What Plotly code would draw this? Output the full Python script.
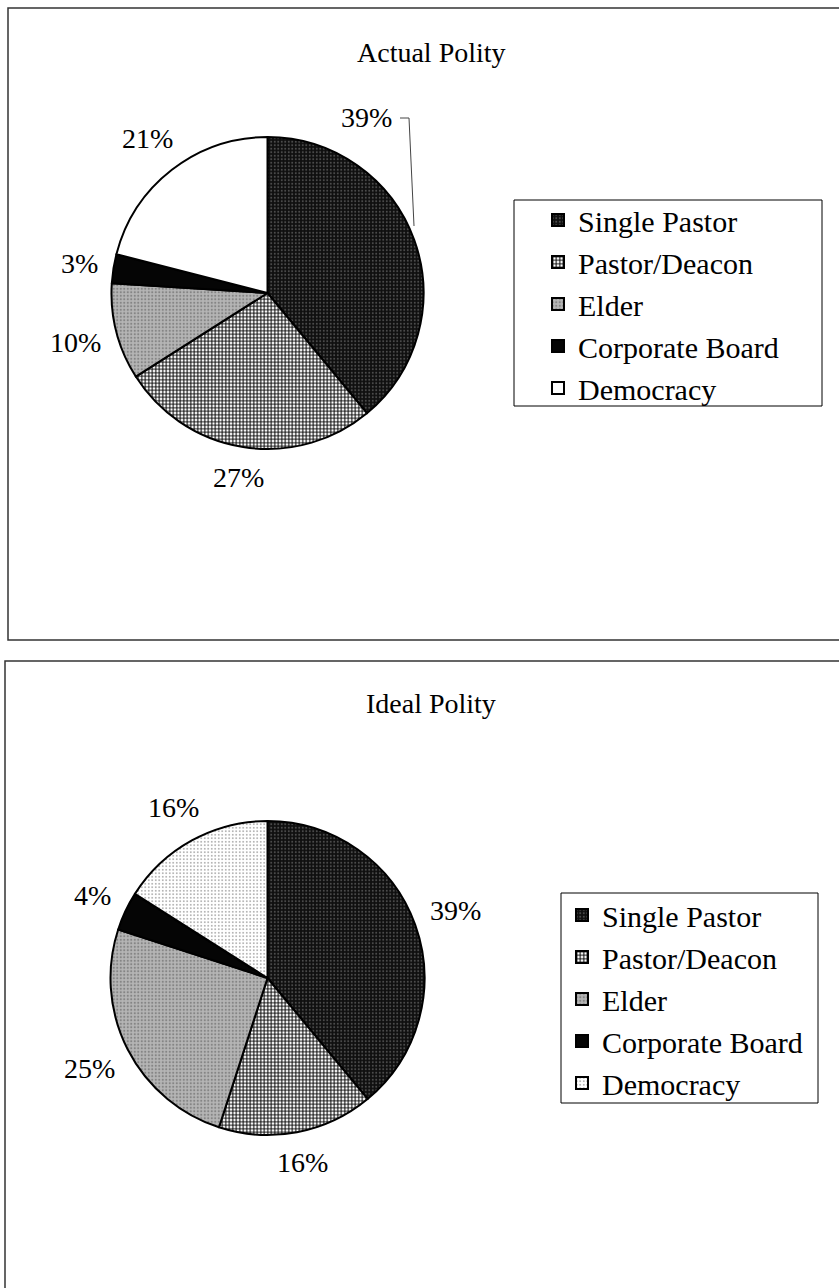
import math
import plotly.graph_objects as go

# Church governance survey: share of respondents by polity type
categories = ["Single Pastor", "Pastor/Deacon", "Elder", "Corporate Board", "Democracy"]
actual_pct = [39, 27, 10, 3, 21]
ideal_pct = [39, 16, 25, 4, 16]

FONT = "Liberation Serif, Times New Roman, serif"
W, H = 839, 1288
LABEL_SIZE = 28

# Fill styling per category (dark speckle, crosshatch, grey speckle, black, white)
bg_colors = ["#0f0f0f", "#ffffff", "#b5b5b5", "#050505", "#ffffff"]
fg_actual = ["#4e4e4e", "#000000", "#858585", "#050505", "#ffffff"]
fg_ideal = ["#4e4e4e", "#000000", "#858585", "#050505", "#9a9a9a"]
shapes_actual = [".", "+", ".", "", ""]
shapes_ideal = [".", "+", ".", "", "."]
solidity = [0.25, 0.5, 0.3, 0.0, 0.18]

# pie placement in page pixels: centre x, centre y, radius
TOP_PIE = (267.5, 293, 156)
BOTTOM_PIE = (267.5, 978, 157)


def px(x):
    return x / W


def py(y):
    return 1 - y / H


def domain(geom):
    cx, cy, r = geom
    return dict(x=[px(cx - r), px(cx + r)], y=[py(cy + r), py(cy - r)])


def pie(values, names, geom, fg, shp, legend_name):
    return go.Pie(
        labels=names,
        values=values,
        sort=False,
        direction="clockwise",
        rotation=0,
        domain=domain(geom),
        textinfo="none",
        marker=dict(
            colors=bg_colors,
            line=dict(color="black", width=2),
            pattern=dict(shape=shp, fgcolor=fg, bgcolor=bg_colors,
                         size=3.5, solidity=solidity, fillmode="replace"),
        ),
        legend=legend_name,
        showlegend=True,
        hoverinfo="label+percent",
    )


def label(text, x, y):
    return dict(text=text, x=px(x), y=py(y), xref="paper", yref="paper",
                xanchor="center", yanchor="middle", showarrow=False,
                font=dict(family=FONT, size=LABEL_SIZE, color="black"))


def slice_labels(values, geom, skip=()):
    """Percent labels set just outside each slice, along its mid angle."""
    cx, cy, r = geom
    total = sum(values)
    out = []
    cum = 0
    for i, v in enumerate(values):
        mid = (cum + v / 2) / total * 2 * math.pi
        cum += v
        if i in skip:
            continue
        dx, dy = math.sin(mid), -math.cos(mid)
        text = f"{v}%"
        half_w = 0.5 * LABEL_SIZE * (0.5 * (len(text) - 1) + 0.833)
        half_h = 0.45 * LABEL_SIZE
        dist = r + 14 + half_w * abs(dx) + half_h * abs(dy)
        out.append(label(text, cx + dx * dist, cy + dy * dist))
    return out


# zero-width suffix keeps the second chart's legend entries separate from the first
ideal_names = [c + "\u200b" for c in categories]

fig = go.Figure()
fig.add_trace(pie(actual_pct, categories, TOP_PIE, fg_actual, shapes_actual, "legend"))
fig.add_trace(pie(ideal_pct, ideal_names, BOTTOM_PIE, fg_ideal, shapes_ideal, "legend2"))

legend_style = dict(
    font=dict(family=FONT, size=30, color="black"),
    bgcolor="rgba(0,0,0,0)",
    borderwidth=0,
    xanchor="left",
    yanchor="top",
    tracegroupgap=0,
    itemwidth=30,
)

annotations = [
    label("Actual Polity", 431, 52),
    label("Ideal Polity", 431, 703),
    # the first chart's leading label sits above its slice, joined by a leader line
    label(f"{actual_pct[0]}%", 366, 118),
]
annotations += slice_labels(actual_pct, TOP_PIE, skip=(0,))
annotations += slice_labels(ideal_pct, BOTTOM_PIE)

fig.update_layout(
    width=W,
    height=H,
    margin=dict(l=0, r=0, t=0, b=0),
    paper_bgcolor="white",
    plot_bgcolor="white",
    font=dict(family=FONT, color="black"),
    legend=dict(x=px(538), y=py(194), **legend_style),
    legend2=dict(x=px(562), y=py(889), **legend_style),
    annotations=annotations,
    shapes=[
        # panel frames
        dict(type="rect", xref="paper", yref="paper", x0=px(8), x1=1.01,
             y0=py(640), y1=py(8), line=dict(color="#333", width=1.5)),
        dict(type="rect", xref="paper", yref="paper", x0=px(5), x1=1.01,
             y0=-0.01, y1=py(661), line=dict(color="#333", width=1.5)),
        # legend frames
        dict(type="rect", xref="paper", yref="paper", x0=px(514), x1=px(822),
             y0=py(406), y1=py(200), line=dict(color="black", width=1)),
        dict(type="rect", xref="paper", yref="paper", x0=px(561), x1=px(818),
             y0=py(1103), y1=py(893), line=dict(color="black", width=1)),
        # leader line for the first chart's leading label
        dict(type="path", xref="paper", yref="paper",
             path=f"M {px(400)},{py(118)} L {px(409)},{py(118)} L {px(414)},{py(226)}",
             line=dict(color="#444", width=1)),
    ],
)

fig.write_html("out.html")
